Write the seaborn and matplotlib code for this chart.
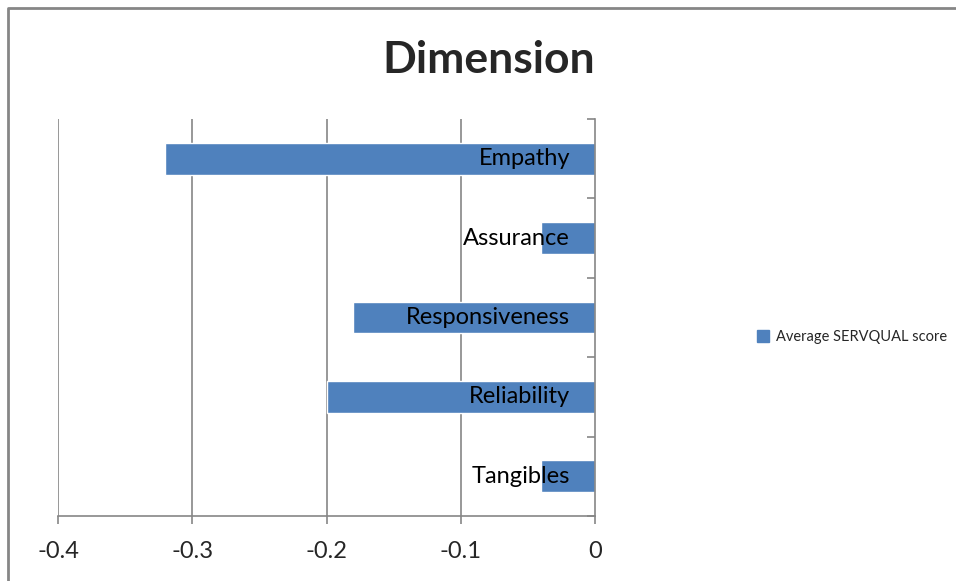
import pandas as pd
import numpy as np
import matplotlib.pyplot as plt
import seaborn as sns
from matplotlib.lines import Line2D
from matplotlib.patches import Patch

# data
dimensions = ['Empathy', 'Assurance', 'Responsiveness', 'Reliability', 'Tangibles']
scores = [-0.32, -0.04, -0.18, -0.2, -0.04]
x_ticks = [-0.4, -0.3, -0.2, -0.1, 0]
x_tick_labels = ['-0.4', '-0.3', '-0.2', '-0.1', '0']

df = pd.DataFrame({'Dimension': dimensions, 'Average SERVQUAL score': scores})

sns.set_style('white')
plt.rcParams['font.family'] = ['Lato', 'DejaVu Sans']

grey = '#868686'
blue = '#4F81BD'

fig = plt.figure(figsize=(9.56, 5.81), dpi=100)
ax = fig.add_axes([58 / 956, 65 / 581, 537 / 956, 397 / 581])

sns.barplot(data=df, x='Average SERVQUAL score', y='Dimension', order=dimensions,
            color=blue, saturation=1, width=0.4, orient='h', ax=ax)

ax.set_xlim(-0.4, 0)
ax.set_ylim(4.5, -0.5)
ax.set_xticks(x_ticks)
ax.set_xticklabels(x_tick_labels, fontsize=17)
ax.set_xlabel('')
ax.set_ylabel('')

# vertical gridlines
ax.grid(False)
for xv in x_ticks[:-1]:
    ax.axvline(xv, color=grey, lw=1.2, zorder=0)

for side in ['top', 'left']:
    ax.spines[side].set_visible(False)
ax.spines['bottom'].set_color(grey)
ax.spines['bottom'].set_linewidth(1.2)
ax.spines['right'].set_visible(True)
ax.spines['right'].set_color(grey)
ax.spines['right'].set_linewidth(1.2)

ax.tick_params(axis='x', direction='out', length=6, width=1.2, color=grey, pad=12, bottom=True)
ax.yaxis.set_ticks_position('right')
ax.set_yticks(np.arange(-0.5, len(dimensions), 1))
ax.set_yticklabels([])
ax.tick_params(axis='y', direction='in', length=6, width=1.2, color=grey)

# category names drawn inside the bars, right aligned near zero
for i, name in enumerate(dimensions):
    ax.annotate(name, xy=(0, i), xytext=(-25, 0), textcoords='offset pixels',
                ha='right', va='center', fontsize=17, color='black', zorder=5)

fig.text(489 / 956, 1 - 60 / 581, 'Dimension', ha='center', va='center',
         fontsize=32, fontweight='bold')

handle = Patch(facecolor=blue, edgecolor=blue)
fig.legend([handle], ['Average SERVQUAL score'], loc='center left',
           bbox_to_anchor=(745 / 956, 1 - 337 / 581), frameon=False,
           fontsize=10.5, handlelength=0.85, handleheight=0.85, handletextpad=0.45,
           borderpad=0.3)

# chart area border (only top and left visible in the crop)
fig.add_artist(Line2D([8 / 956, 8 / 956, 1.0], [0, 1 - 8 / 581, 1 - 8 / 581],
                      transform=fig.transFigure, color=grey, lw=2))

fig.savefig('out.png', dpi=100)
